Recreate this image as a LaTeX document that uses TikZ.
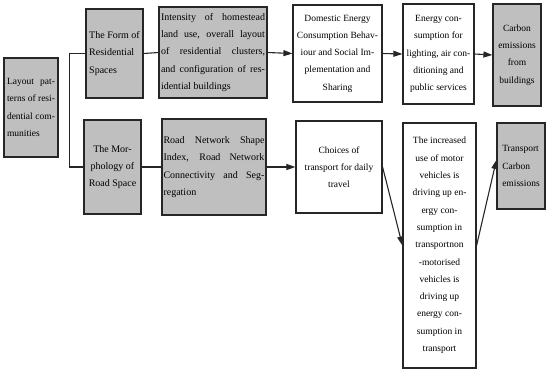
\documentclass[tikz,border=0pt]{standalone}
\usepackage{fontspec}
\setmainfont{Liberation Serif}
\usetikzlibrary{arrows.meta}
\newcommand\jline[2]{\makebox[#1][s]{#2}}
\begin{document}
\begin{tikzpicture}[x=1pt,y=-1pt,
  box/.style={draw=black!85,line width=1.2pt,rectangle,inner sep=1pt,
    font=\fontsize{9.5}{17.3}\selectfont},
  gbox/.style={box,fill=black!25},
  wbox/.style={box,fill=white},
  bigtext/.style={font=\fontsize{10}{17.3}\selectfont},
  conn/.style={line width=1.1pt,draw=black!85},
  arr/.style={conn,-{Triangle[length=9pt,width=6pt]}}]
\useasboundingbox (0,0) rectangle (550,373);
\node[gbox,minimum width=54pt,minimum height=99pt,align=left] (A) at (31,107.5)
  {\jline{48pt}{Layout pat-}\\\jline{48pt}{terns of resi-}\\\jline{48pt}{dential com-}\\munities\hspace*{\fill}};
\node[gbox,bigtext,minimum width=57pt,minimum height=89pt,align=left] (B) at (114.5,53.5)
  {The Form of\\Residential\\Spaces};
\node[gbox,bigtext,minimum width=108pt,minimum height=91pt,align=left] (C) at (213,52.5)
  {\jline{104pt}{Intensity of homestead}\\\jline{104pt}{land use, overall layout}\\\jline{104pt}{of residential clusters,}\\\jline{104pt}{and configuration of res-}\\idential buildings};
\node[gbox,bigtext,minimum width=57pt,minimum height=94pt,align=center] (D) at (112.5,167)
  {The Mor-\\phology of\\Road Space};
\node[gbox,bigtext,minimum width=104pt,minimum height=96pt,align=left] (E) at (214,167)
  {\jline{101pt}{Road Network Shape}\\\jline{101pt}{Index, Road Network}\\\jline{101pt}{Connectivity and Seg-}\\regation};
\node[wbox,minimum width=89pt,minimum height=97pt,align=center] (F) at (337.5,53.5)
  {Domestic Energy\\Consumption Behav-\\iour and Social Im-\\plementation and\\Sharing};
\node[wbox,minimum width=71pt,minimum height=100pt,align=center] (G) at (438.5,54)
  {Energy con-\\sumption for\\lighting, air con-\\ditioning and\\public services};
\node[gbox,minimum width=48pt,minimum height=102pt,align=center] (H) at (517,55)
  {Carbon\\emissions\\from\\buildings};
\node[wbox,minimum width=86pt,minimum height=92pt,align=center] (I) at (339,167)
  {Choices of\\transport for daily\\travel};
\node[wbox,minimum width=73pt,minimum height=245pt,align=center] (J) at (439.5,245.5)
  {The increased\\use of motor\\vehicles is\\driving up en-\\ergy con-\\sumption in\\transportnon\\-motorised\\vehicles is\\driving up\\energy con-\\sumption in\\transport};
\node[gbox,minimum width=48pt,minimum height=86pt,align=left] (K) at (521,166)
  {Transport\\Carbon\\emissions};
\draw[conn] (B.west) -- ++(-16,0) |- (D.west);
\draw[conn] (B.east) -- (C.west);
\draw[conn] (D.east) -- (E.west);
\draw[arr] (C.east) -- (F.west);
\draw[arr] (F.east) -- (G.west);
\draw[arr] (G.east) -- (H.west);
\draw[arr] (E.east) -- (I.west);
\draw[arr] (I.east) -- (J.west);
\draw[arr] (J.east) -- ([yshift=6pt]K.west);
\end{tikzpicture}
\end{document}
